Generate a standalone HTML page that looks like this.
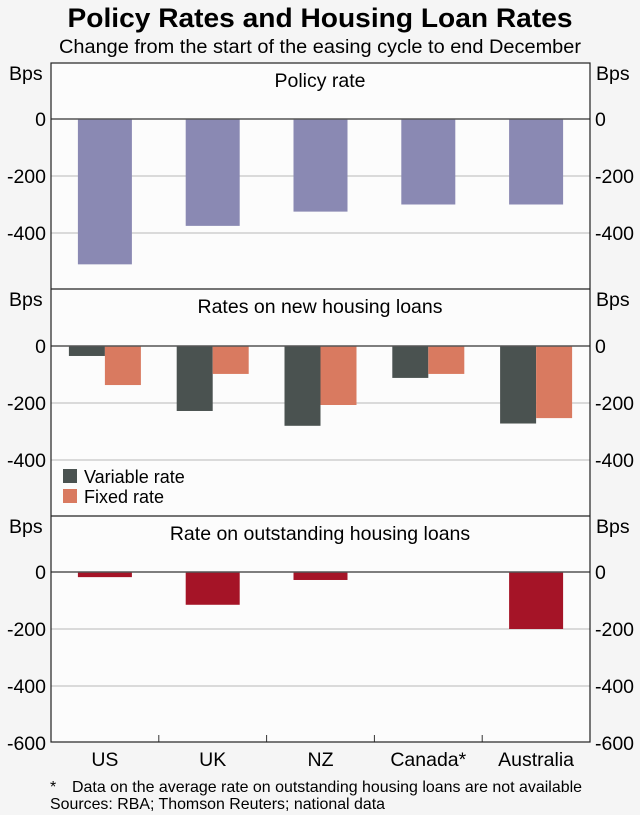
<!DOCTYPE html>
<html><head><meta charset="utf-8"><style>
body{margin:0;background:#f5f5f5;font-family:"Liberation Sans",sans-serif}
svg{display:block}
</style></head><body>
<svg width="640" height="815" id="c">
<rect x="0" y="0" width="640" height="815" fill="#f5f5f5"/>
<text x="320" y="27" font-size="27" font-weight="bold" text-anchor="middle" textLength="505" lengthAdjust="spacingAndGlyphs">Policy Rates and Housing Loan Rates</text>
<text x="320" y="53" font-size="19" text-anchor="middle" textLength="522" lengthAdjust="spacingAndGlyphs">Change from the start of the easing cycle to end December</text>
<text x="50" y="792" font-size="16">*</text>
<text x="72" y="792" font-size="16" textLength="510" lengthAdjust="spacingAndGlyphs">Data on the average rate on outstanding housing loans are not available</text>
<text x="50" y="809" font-size="16" textLength="335" lengthAdjust="spacingAndGlyphs">Sources: RBA; Thomson Reuters; national data</text>
</svg>
<script>
const categories=["US","UK","NZ","Canada*","Australia"];
const policyRate=[-510,-375,-325,-300,-300];
const variableRate=[-35,-228,-280,-112,-272];
const fixedRate=[-137,-98,-207,-98,-253];
const outstandingRate=[-18,-115,-28,null,-200];
const ticks=[0,-200,-400];
const bottomTicks=[0,-200,-400,-600];

const NS="http://www.w3.org/2000/svg";
const svg=document.getElementById('c');
const L=51,R=590,slot=(R-L)/5;
const pxPer=57/200;
function mk(tag,attrs,text){const e=document.createElementNS(NS,tag);for(const k in attrs)e.setAttribute(k,attrs[k]);if(text!==undefined)e.textContent=text;svg.appendChild(e);return e;}
function xC(i){return L+slot*(i+0.5);}
const panels=[{top:63,zero:119,title:"Policy rate"},{top:289,zero:346,title:"Rates on new housing loans"},{top:516,zero:572,title:"Rate on outstanding housing loans"}];
function yOf(p,v){return p.zero-v*pxPer;}

const pa=mk('rect',{x:L,y:63,width:R-L,height:742-63,fill:'#fcfcfc'});



panels.forEach((p,pi)=>{
  const tl=pi===2?bottomTicks:ticks;
  tl.forEach(t=>{
    const y=yOf(p,t);
    if(t!==0&&!(pi===2&&t===-600)){const g=mk('line',{x1:L,x2:R,y1:y,y2:y,stroke:'#b8b8b8','stroke-width':1});
      
      }
    const a=mk('text',{x:L-5,y:y+7,'font-size':19.5,'text-anchor':'end'},String(t));
    
    
    const b=mk('text',{x:R+5,y:y+7,'font-size':19.5},String(t));
    
    
  });
  const u1=mk('text',{x:9,y:p.top+17,'font-size':19.5},'Bps');
  
  
  const u2=mk('text',{x:596,y:p.top+17,'font-size':19.5},'Bps');
  
  
  const t=mk('text',{x:320,y:p.top+24,'font-size':19.5,'text-anchor':'middle'},p.title);
  
  
});

function bar(x,w,p,v,fill,name){
  if(v===null)return;
  const y0=yOf(p,0),y1=yOf(p,v);
  const r=mk('rect',{x:x,y:Math.min(y0,y1),width:w,height:Math.abs(y1-y0),fill:fill});
  
  
}
categories.forEach((c,i)=>{
  const cx=xC(i);
  bar(cx-27,54,panels[0],policyRate[i],'#8a89b3','bar-policy-rate');
  bar(cx-36,36,panels[1],variableRate[i],'#4a5250','bar-variable-rate');
  bar(cx,36,panels[1],fixedRate[i],'#d97a60','bar-fixed-rate');
  bar(cx-27,54,panels[2],outstandingRate[i],'#a51427','bar-outstanding-rate');
  const lb=mk('text',{x:cx,y:766,'font-size':19.5,'text-anchor':'middle'},c);
  
  
  if(i>0){const tk=mk('line',{x1:L+slot*i,x2:L+slot*i,y1:735,y2:742,stroke:'#333'});
    
    }
});
panels.forEach(p=>{
  const z=mk('line',{x1:L,x2:R,y1:p.zero,y2:p.zero,stroke:'#555','stroke-width':1.5});
  
  
});
[289,516].forEach(y=>{
  const d=mk('line',{x1:L,x2:R,y1:y,y2:y,stroke:'#222','stroke-width':1.2});
  
  
});
const fr=mk('rect',{x:L,y:63,width:R-L,height:742-63,fill:'none',stroke:'#222','stroke-width':1.2});



const lg1=mk('rect',{x:63,y:469,width:14,height:14,fill:'#4a5250'});


const lt1=mk('text',{x:84,y:483,'font-size':18},'Variable rate');


const lg2=mk('rect',{x:63,y:489,width:14,height:14,fill:'#d97a60'});


const lt2=mk('text',{x:84,y:503,'font-size':18},'Fixed rate');


</script>
</body></html>
